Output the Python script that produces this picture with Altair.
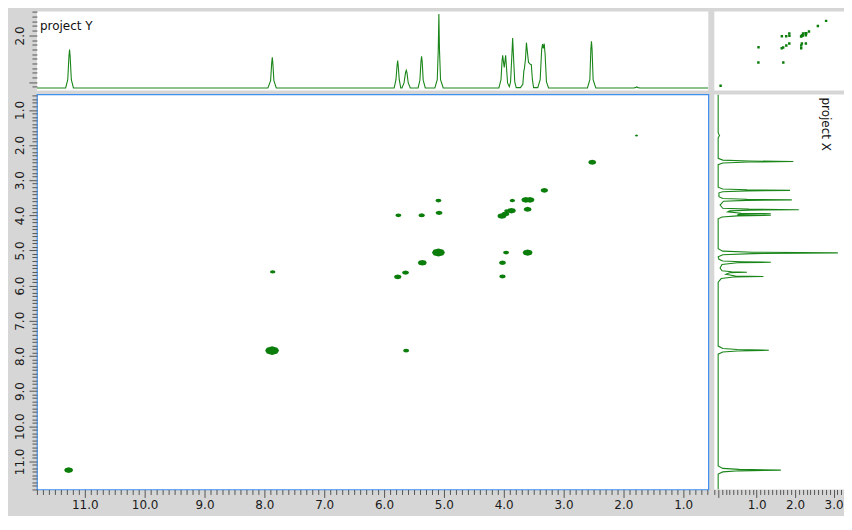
import altair as alt
import pandas as pd

# ---------------- data ----------------
# top 1D projection ("project Y"): chemical shift (ppm) vs intensity
TOP_PPM = [11.80, 11.32, 11.285, 11.265, 11.255, 11.245, 11.225, 11.19,
           7.94, 7.895, 7.877, 7.867, 7.857, 7.84, 7.80,
           5.83, 5.80, 5.782, 5.772, 5.762, 5.745, 5.72, 5.70, 5.665, 5.64, 5.628, 5.616, 5.595, 5.56,
           5.43, 5.40, 5.382, 5.372, 5.362, 5.345, 5.31,
           5.15, 5.11, 5.093, 5.083, 5.073, 5.055, 5.01,
           4.08, 4.045, 4.027, 4.017, 4.00, 3.99, 3.978, 3.967, 3.955, 3.935, 3.905,
           3.885, 3.862, 3.85, 3.838, 3.815, 3.79, 3.72,
           3.68, 3.662, 3.655, 3.635, 3.62, 3.60, 3.585, 3.572, 3.555, 3.538, 3.52, 3.50,
           3.43, 3.39, 3.365, 3.35, 3.336, 3.322, 3.308, 3.285, 3.25,
           2.60, 2.56, 2.543, 2.533, 2.523, 2.505, 2.46,
           1.83, 1.80, 1.778, 1.755, 1.72, 0.58]
TOP_INT = [0.872, 0.872, 1.05, 1.55, 1.694, 1.55, 1.05, 0.872,
           0.872, 1.03, 1.40, 1.529, 1.40, 1.03, 0.872,
           0.872, 1.05, 1.35, 1.458, 1.35, 1.05, 0.875, 0.875, 0.98, 1.20, 1.251, 1.20, 0.98, 0.872,
           0.872, 1.04, 1.44, 1.55, 1.44, 1.04, 0.872,
           0.872, 1.05, 1.70, 2.456, 1.70, 1.05, 0.872,
           0.872, 1.05, 1.45, 1.572, 1.40, 1.315, 1.45, 1.572, 1.35, 0.98, 0.90,
           1.00, 1.60, 1.942, 1.60, 1.00, 0.88, 0.88,
           0.95, 1.25, 1.272, 1.50, 1.844, 1.60, 1.42, 1.407, 1.38, 1.373, 1.05, 0.88,
           0.88, 1.05, 1.70, 1.814, 1.72, 1.822, 1.60, 1.00, 0.872,
           0.872, 1.05, 1.70, 1.872, 1.70, 1.05, 0.872,
           0.872, 0.88, 0.895, 0.88, 0.872, 0.872]

# right 1D projection ("project X"): chemical shift (ppm) vs intensity
RIGHT_PPM = [0.56, 1.65, 1.70, 1.73, 1.76, 1.80,
             2.38, 2.43, 2.455, 2.47, 2.485, 2.51, 2.56,
             3.20, 3.25, 3.275, 3.29, 3.305, 3.33, 3.36,
             3.47, 3.52, 3.545, 3.56, 3.575, 3.60, 3.71,
             3.80, 3.825, 3.84, 3.855, 3.875, 3.90, 3.94, 3.955, 3.965, 3.985, 4.00, 4.015, 4.05, 4.10,
             4.95, 5.02, 5.05, 5.07, 5.09, 5.12, 5.18,
             5.25, 5.30, 5.32, 5.335, 5.35, 5.40, 5.50,
             5.58, 5.605, 5.62, 5.635, 5.68, 5.725, 5.74, 5.755, 5.80, 5.90,
             7.72, 7.79, 7.82, 7.84, 7.86, 7.89, 7.95,
             11.13, 11.20, 11.23, 11.25, 11.27, 11.30, 11.36, 11.80]
RIGHT_INT = [0.0, 0.0, 0.02, 0.036, 0.02, 0.0,
             0.0, 0.12, 0.80, 1.954, 0.80, 0.12, 0.0,
             0.0, 0.12, 0.75, 1.869, 0.75, 0.12, 0.02,
             0.02, 0.12, 0.75, 1.913, 0.75, 0.14, 0.05,
             0.12, 0.80, 2.094, 0.80, 0.30, 0.25, 0.60, 1.369, 0.55, 0.50, 1.369, 0.50, 0.10, 0.0,
             0.0, 0.12, 0.90, 3.11, 0.90, 0.12, 0.0,
             0.02, 0.12, 0.60, 1.369, 0.50, 0.10, 0.05,
             0.10, 0.35, 0.747, 0.30, 0.20, 0.45, 1.177, 0.40, 0.08, 0.0,
             0.0, 0.12, 0.50, 1.317, 0.50, 0.12, 0.0,
             0.0, 0.12, 0.55, 1.628, 0.55, 0.12, 0.0, 0.0]

# 2D cross peaks: F2 shift (x), F1 shift (y), contour width (px)
PEAK_F2 = [1.78, 2.52, 3.32, 5.09, 3.855, 3.63, 3.56, 5.76, 5.37, 5.08, 3.60,
           4.03, 3.97, 3.87, 3.95, 5.09, 5.36, 5.64, 5.77, 3.96, 3.60, 4.02, 4.02,
           7.86, 7.87, 5.63, 11.27]
PEAK_F1 = [1.73, 2.49, 3.29, 3.58, 3.58, 3.56, 3.56, 4.00, 4.00, 3.93, 3.83,
           4.02, 3.96, 3.87, 3.87, 5.06, 5.35, 5.63, 5.75, 5.06, 5.06, 5.35, 5.74,
           5.61, 7.85, 7.85, 11.25]
PEAK_W = [3, 8, 7.5, 6, 5.5, 9, 9, 6, 6.5, 7, 8,
          9, 8, 9, 5, 13, 9, 7, 7.5, 6, 10, 7, 6.5,
          5.5, 14, 6, 9]

# panel titles
TOP_TITLE = ["project Y"]
RIGHT_TITLE = ["project X"]

# axis ticks (every 0.1 ppm, labelled on whole numbers)
PPM_TICKS = [round(0.6 + 0.1 * i, 1) for i in range(113)]
TOP_TICKS = [round(0.9 + 0.1 * i, 1) for i in range(17)]
RIGHT_TICKS = [round(-0.1 + 0.1 * i, 1) for i in range(34)]

# ---------------- tables ----------------
top_df = pd.DataFrame({"ppm": TOP_PPM, "intensity": TOP_INT})
right_df = pd.DataFrame({"ppm": RIGHT_PPM, "intensity": RIGHT_INT,
                         "i": list(range(len(RIGHT_PPM)))})
peaks_df = pd.DataFrame({"f2": PEAK_F2, "f1": PEAK_F1, "size": [w * w for w in PEAK_W]})

GREEN = "#0a7d0a"
LINE_GREEN = "#1a861a"
FONT = "DejaVu Sans"
IS_MAJOR = "abs(datum.value - round(datum.value)) < 0.01"
ELLIPSE = "M-1,0 L-0.75,-0.42 L0,-0.62 L0.75,-0.42 L1,0 L0.75,0.42 L0,0.62 L-0.75,0.42 Z"


def tick_axis(values, orient, angle, label_test=IS_MAJOR, major_len=8, minor_len=5):
    return alt.Axis(
        values=values, orient=orient, title=None, grid=False, domain=False,
        labelExpr="(%s) ? format(datum.value, '.1f') : ''" % label_test,
        tickSize={"condition": {"test": IS_MAJOR, "value": major_len}, "value": minor_len},
        labelAngle=angle, labelOverlap=False, labelFlush=False, labelBound=False,
        labelPadding=2, labelFont=FONT, labelFontSize=12, labelColor="#1a1a1a",
        tickColor="#555555", tickWidth=1,
    )


ppm_x = alt.Scale(domain=[0.58, 11.8], reverse=True, nice=False, zero=False)
ppm_y = alt.Scale(domain=[0.56, 11.8], reverse=True, nice=False, zero=False)

MAIN_W, MAIN_H = 673, 396
SIDE_W, TOP_H = 130, 79

# ---------------- top projection ----------------
top_line = alt.Chart(top_df).mark_line(color=LINE_GREEN, strokeWidth=1.1, clip=True).encode(
    x=alt.X("ppm:Q", scale=ppm_x, axis=None),
    y=alt.Y("intensity:Q", scale=alt.Scale(domain=[0.82, 2.51], nice=False, zero=False),
            axis=tick_axis(TOP_TICKS, "left", 270, label_test="abs(datum.value - 2) < 0.01")),
)
top_label = alt.Chart(pd.DataFrame({"t": TOP_TITLE})).mark_text(
    font=FONT, fontSize=12, color="#111111", align="left", baseline="alphabetic"
).encode(text="t:N", x=alt.value(3), y=alt.value(18))
top_chart = alt.layer(top_line, top_label).properties(width=MAIN_W, height=TOP_H)

# ---------------- overview (top right) ----------------
overview = alt.Chart(peaks_df).mark_square(color=GREEN, size=6, opacity=1, clip=True).encode(
    x=alt.X("f2:Q", scale=alt.Scale(domain=[0.17, 11.835], reverse=True, nice=False, zero=False), axis=None),
    y=alt.Y("f1:Q", scale=alt.Scale(domain=[0.37, 11.94], reverse=True, nice=False, zero=False), axis=None),
).properties(width=SIDE_W, height=TOP_H)

# ---------------- main 2D spectrum ----------------
main = alt.Chart(peaks_df).mark_point(
    shape=ELLIPSE, filled=True, color=GREEN, opacity=1, clip=True
).encode(
    x=alt.X("f2:Q", scale=ppm_x, axis=tick_axis(PPM_TICKS, "bottom", 0)),
    y=alt.Y("f1:Q", scale=ppm_y, axis=tick_axis(PPM_TICKS, "left", 270)),
    size=alt.Size("size:Q", scale=None, legend=None),
).properties(width=MAIN_W, height=MAIN_H,
             view=alt.ViewBackground(stroke="#3d8ff0", strokeWidth=1.2, fill="white"))

# ---------------- right projection ----------------
right_line = alt.Chart(right_df).mark_line(color=LINE_GREEN, strokeWidth=1.1, clip=True).encode(
    x=alt.X("intensity:Q", scale=alt.Scale(domain=[-0.1, 3.27], nice=False, zero=False),
            axis=tick_axis(RIGHT_TICKS, "bottom", 0,
                           label_test=IS_MAJOR + " && abs(datum.value) > 0.01")),
    y=alt.Y("ppm:Q", scale=ppm_y, axis=None),
    order=alt.Order("i:Q"),
)
right_label = alt.Chart(pd.DataFrame({"t": RIGHT_TITLE})).mark_text(
    font=FONT, fontSize=12, color="#111111", align="left", baseline="middle", angle=90
).encode(text="t:N", x=alt.value(112), y=alt.value(3))
right_chart = alt.layer(right_line, right_label).properties(width=SIDE_W, height=MAIN_H)

chart = alt.concat(
    top_chart, overview, main, right_chart, columns=2,
    spacing={"row": 3, "column": 4}, align="each",
).properties(
    background="#d6d6d6",
    padding={"left": 5, "top": 2, "right": 0, "bottom": 4},
).configure_view(stroke=None, fill="white")

chart.save("out.html", embed_options={"renderer": "svg", "actions": False})
